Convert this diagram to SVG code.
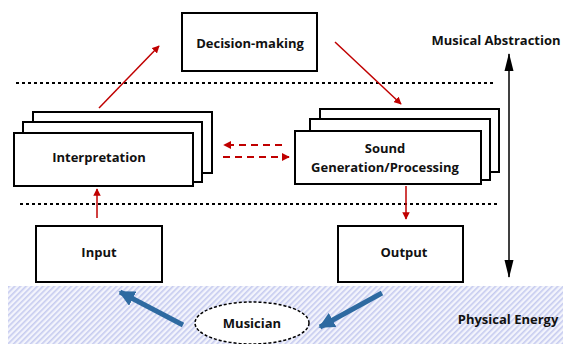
<svg xmlns="http://www.w3.org/2000/svg" width="563" height="344" viewBox="0 0 563 344">
<defs>
<style>
.box{fill:#fff;stroke:#000;stroke-width:2}
.t{font-family:"Open Sans","Liberation Sans",sans-serif;font-weight:bold;font-size:13px;fill:#111;text-anchor:middle}
.dot{stroke:#000;stroke-width:2.2;stroke-dasharray:3 3;fill:none}
.red{stroke:#c00000;stroke-width:1.5;fill:none}
.redd{stroke:#c00000;stroke-width:2;fill:none;stroke-dasharray:7 5}
.blue{stroke:#2e6aa1;stroke-width:5;fill:none}
</style>
<pattern id="hatch" width="4" height="4" patternUnits="userSpaceOnUse" patternTransform="rotate(45)">
<rect width="4" height="4" fill="#f3f4fc"/>
<rect width="1.6" height="4" fill="#c6cbef"/>
</pattern>
<marker id="ar" viewBox="0 0 10 10" refX="9" refY="5" markerWidth="5" markerHeight="5" markerUnits="strokeWidth" orient="auto"><path d="M0,0L10,5L0,10z" fill="#c00000"/></marker>
<marker id="ard" viewBox="0 0 10 10" refX="9" refY="5" markerWidth="4" markerHeight="4" markerUnits="strokeWidth" orient="auto"><path d="M0,0L10,5L0,10z" fill="#c00000"/></marker>
<marker id="ab" viewBox="0 0 10 10" refX="9" refY="5" markerWidth="3.2" markerHeight="3.2" markerUnits="strokeWidth" orient="auto"><path d="M0,0L10,5L0,10z" fill="#2e6aa1"/></marker>
<marker id="ak" viewBox="0 0 18 10" refX="17" refY="5" markerWidth="18" markerHeight="10" markerUnits="userSpaceOnUse" orient="auto"><path d="M0,0.5L18,5L0,9.5z" fill="#000"/></marker>
</defs>
<rect x="0" y="0" width="563" height="344" fill="#fff"/>
<rect x="8" y="286" width="555" height="58" fill="url(#hatch)"/>
<line class="dot" x1="16" y1="83" x2="496" y2="83"/>
<line class="dot" x1="20" y1="204" x2="500" y2="204"/>
<g id="decision">
<rect class="box" x="182" y="13" width="135" height="58"/>
<text class="t" x="250" y="47.5">Decision-making</text>
</g>
<g id="interpretation">
<rect class="box" x="33" y="112" width="179" height="61"/>
<rect class="box" x="23" y="122" width="179" height="60"/>
<rect class="box" x="14" y="133" width="179" height="53"/>
<text class="t" x="99" y="162">Interpretation</text>
</g>
<g id="sound">
<rect class="box" x="320" y="109" width="179" height="63"/>
<rect class="box" x="310" y="119" width="180" height="61"/>
<rect class="box" x="295" y="131" width="186" height="53"/>
<text class="t" x="385" y="153">Sound</text>
<text class="t" x="385" y="172">Generation/Processing</text>
</g>
<g id="input">
<rect class="box" x="36" y="226" width="126" height="56"/>
<text class="t" x="99" y="257">Input</text>
</g>
<g id="output">
<rect class="box" x="338" y="226" width="125" height="56"/>
<text class="t" x="404" y="257">Output</text>
</g>
<g id="musician">
<ellipse cx="252" cy="323" rx="57" ry="21" fill="#fff" stroke="#000" stroke-width="1.5" stroke-dasharray="3 2"/>
<text class="t" x="252" y="328">Musician</text>
</g>
<g id="labels">
<text class="t" x="496" y="45">Musical Abstraction</text>
<text class="t" x="508" y="324">Physical Energy</text>
</g>
<g id="connectors">
<line class="red" x1="99" y1="108" x2="159" y2="46" marker-end="url(#ar)"/>
<line class="red" x1="335" y1="42" x2="401" y2="104" marker-end="url(#ar)"/>
<line class="redd" x1="282" y1="145" x2="224" y2="145" marker-end="url(#ard)"/>
<line class="redd" x1="223" y1="157" x2="289" y2="157" marker-end="url(#ard)"/>
<line class="red" x1="97" y1="218" x2="97" y2="189" marker-end="url(#ar)"/>
<line class="red" x1="406" y1="186" x2="406" y2="219" marker-end="url(#ar)"/>
<line x1="509" y1="160" x2="509" y2="54" stroke="#000" stroke-width="1.5" marker-end="url(#ak)"/>
<line x1="509" y1="160" x2="509" y2="277" stroke="#000" stroke-width="1.5" marker-end="url(#ak)"/>
<line class="blue" x1="183" y1="325" x2="120" y2="292" marker-end="url(#ab)"/>
<line class="blue" x1="382" y1="293" x2="320" y2="327" marker-end="url(#ab)"/>
</g>
</svg>
